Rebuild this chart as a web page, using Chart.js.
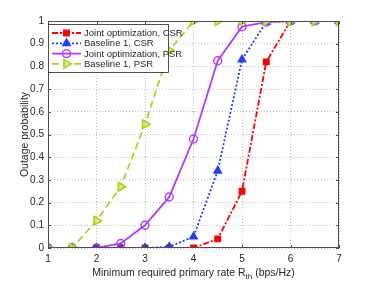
<!DOCTYPE html>
<html>
<head>
<meta charset="utf-8">
<script src="https://cdn.jsdelivr.net/npm/chart.js@4/dist/chart.umd.min.js"></script>
<style>
  html, body { margin: 0; padding: 0; background: #fff; }
  #wrap { width: 374px; height: 283px; position: relative; }
</style>
</head>
<body>
<div id="wrap"><canvas id="c"></canvas></div>
<script>
// rate threshold (bps/Hz)
const rates = [1, 1.5, 2, 2.5, 3, 3.5, 4, 4.5, 5, 5.5, 6, 6.5, 7];

// outage probability per scheme
const jointCSR    = [0, 0, 0, 0, 0, 0, 0, 0.04, 0.25, 0.82, 1, 1, 1];
const baseCSR     = [0, 0, 0, 0, 0, 0.005, 0.05, 0.34, 0.83, 0.995, 1, 1, 1];
const jointPSR    = [0, 0, 0, 0.02, 0.10, 0.225, 0.48, 0.825, 0.975, 0.995, 1, 1, 1];
const basePSR     = [0, 0, 0.12, 0.27, 0.545, 0.87, 1, 1, 1, 1, 1, 1, 1];

const seriesNames = ['Joint optimization, CSR', 'Baseline 1, CSR', 'Joint optimization, PSR', 'Baseline 1, PSR'];
const xTicks = [1, 2, 3, 4, 5, 6, 7];
const yTicks = [0, 0.1, 0.2, 0.3, 0.4, 0.5, 0.6, 0.7, 0.8, 0.9, 1];

const FONT = '"Liberation Sans", Arial, sans-serif';

function pts(ys) {
    return ys.map(function (y, i) { return { x: rates[i], y: y }; });
}

const datasets = [
    {
        label: seriesNames[0], data: pts(jointCSR),
        borderColor: '#ff0000', backgroundColor: '#ff0000',
        borderDash: [6, 2, 2, 2], borderWidth: 1.8,
        pointStyle: 'rect', pointRadius: 4, pointBorderWidth: 1.2,
        order: 3
    },
    {
        label: seriesNames[1], data: pts(baseCSR),
        borderColor: '#1f3dff', backgroundColor: '#1f3dff',
        borderDash: [2, 2], borderWidth: 1.8,
        pointStyle: 'triangle', pointRadius: 4.5, pointBorderWidth: 1.2,
        order: 2
    },
    {
        label: seriesNames[2], data: pts(jointPSR),
        borderColor: '#b03cff', backgroundColor: 'rgba(255,255,255,0)',
        borderWidth: 1.8,
        pointStyle: 'circle', pointRadius: 4, pointBorderWidth: 1.4,
        order: 1
    },
    {
        label: seriesNames[3], data: pts(basePSR),
        borderColor: '#a8d41c', backgroundColor: '#d4ec8a',
        borderDash: [7, 4], borderWidth: 1.8,
        pointStyle: 'triangle', pointRotation: 90, pointRadius: 5, pointBorderWidth: 1.6,
        order: 0
    }
];

// box, inward ticks, axis titles and MATLAB-style legend
const decorPlugin = {
    id: 'decor',
    afterDraw: function (chart) {
        const ctx = chart.ctx;
        const a = chart.chartArea;
        const xs = chart.scales.x, ys = chart.scales.y;
        ctx.save();
        ctx.strokeStyle = '#4d4d4d';
        ctx.lineWidth = 1;
        ctx.strokeRect(a.left + 0.5, a.top + 0.5, a.right - a.left - 1, a.bottom - a.top - 1);
        ctx.beginPath();
        xTicks.forEach(function (t) {
            const px = Math.round(xs.getPixelForValue(t)) + 0.5;
            ctx.moveTo(px, a.bottom); ctx.lineTo(px, a.bottom - 3);
            ctx.moveTo(px, a.top); ctx.lineTo(px, a.top + 3);
        });
        yTicks.forEach(function (t) {
            const py = Math.round(ys.getPixelForValue(t)) + 0.5;
            ctx.moveTo(a.left, py); ctx.lineTo(a.left + 3, py);
            ctx.moveTo(a.right, py); ctx.lineTo(a.right - 3, py);
        });
        ctx.stroke();

        // x title with subscript
        ctx.fillStyle = '#262626';
        ctx.textBaseline = 'alphabetic';
        const main = 'Minimum required primary rate R';
        const sub = 'th';
        const tail = ' (bps/Hz)';
        ctx.font = '10.5px ' + FONT;
        const w1 = ctx.measureText(main).width;
        const w3 = ctx.measureText(tail).width;
        ctx.font = '8px ' + FONT;
        const w2 = ctx.measureText(sub).width;
        let x0 = (a.left + a.right) / 2 - (w1 + w2 + w3) / 2;
        const yb = 276;
        ctx.textAlign = 'left';
        ctx.font = '10.5px ' + FONT;
        ctx.fillText(main, x0, yb);
        ctx.font = '8px ' + FONT;
        ctx.fillText(sub, x0 + w1, yb + 3);
        ctx.font = '10.5px ' + FONT;
        ctx.fillText(tail, x0 + w1 + w2, yb);

        // y title
        ctx.save();
        ctx.translate(25, (a.top + a.bottom) / 2);
        ctx.rotate(-Math.PI / 2);
        ctx.textAlign = 'center';
        ctx.textBaseline = 'middle';
        ctx.font = '10.5px ' + FONT;
        ctx.fillText('Outage probability', 0, 0);
        ctx.restore();

        // legend
        const lx = 48, ly = 24, lw = 120, lh = 48;
        ctx.fillStyle = '#fff';
        ctx.fillRect(lx, ly, lw, lh);
        ctx.strokeStyle = '#262626';
        ctx.lineWidth = 0.8;
        ctx.strokeRect(lx + 0.5, ly + 0.5, lw, lh);
        datasets.forEach(function (ds, i) {
            const ry = ly + 9 + i * 10.3;
            ctx.save();
            ctx.strokeStyle = ds.borderColor;
            ctx.lineWidth = ds.borderWidth;
            ctx.setLineDash(ds.borderDash || []);
            ctx.beginPath();
            ctx.moveTo(lx + 4, ry);
            ctx.lineTo(lx + 33, ry);
            ctx.stroke();
            ctx.setLineDash([]);
            ctx.fillStyle = ds.backgroundColor;
            ctx.lineWidth = ds.pointBorderWidth;
            Chart.helpers.drawPoint(ctx, {
                pointStyle: ds.pointStyle,
                radius: ds.pointRadius,
                rotation: ds.pointRotation || 0,
                borderWidth: ds.pointBorderWidth
            }, lx + 18.5, ry);
            ctx.restore();
            ctx.fillStyle = '#262626';
            ctx.font = '9.5px ' + FONT;
            ctx.textAlign = 'left';
            ctx.textBaseline = 'middle';
            ctx.fillText(ds.label, lx + 36, ry + 0.5);
        });
        ctx.restore();
    }
};

new Chart(document.getElementById('c').getContext('2d'), {
    type: 'line',
    data: { datasets: datasets },
    options: {
        responsive: true,
        maintainAspectRatio: false,
        animation: false,
        layout: { padding: { left: 0, right: 35, top: 21, bottom: 0 } },
        plugins: {
            legend: { display: false },
            tooltip: { enabled: false }
        },
        elements: { line: { tension: 0 } },
        scales: {
            x: {
                type: 'linear',
                min: 1, max: 7,
                afterFit: function (s) { s.height = 35; },
                afterBuildTicks: function (s) { s.ticks = xTicks.map(function (v) { return { value: v }; }); },
                grid: { color: '#bdbdbd', drawTicks: false },
                border: { display: false, dash: [1, 2] },
                ticks: {
                    color: '#262626', padding: 5,
                    font: { family: FONT, size: 10 }
                }
            },
            y: {
                min: 0, max: 1,
                afterFit: function (s) { s.width = 48; },
                afterBuildTicks: function (s) { s.ticks = yTicks.map(function (v) { return { value: v }; }); },
                grid: { color: '#bdbdbd', drawTicks: false },
                border: { display: false, dash: [1, 2] },
                ticks: {
                    color: '#262626', padding: 4,
                    font: { family: FONT, size: 10 },
                    callback: function (v) { return String(Math.round(v * 10) / 10); }
                }
            }
        }
    },
    plugins: [decorPlugin]
});
</script>
</body>
</html>
